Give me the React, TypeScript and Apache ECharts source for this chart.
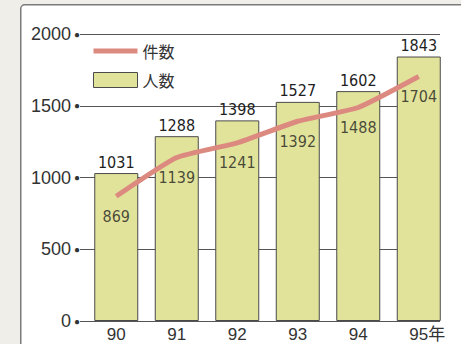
import React, { useEffect, useRef } from "react";
import * as echarts from "echarts";

// 年次 (1990–1995)
const years = ["90", "91", "92", "93", "94", "95"];
const yearUnit = "年";
// 人数 (bars)
const persons = [1031, 1288, 1398, 1527, 1602, 1843];
// 件数 (line)
const cases = [869, 1139, 1241, 1392, 1488, 1704];
// value axis
const yMin = 0;
const yMax = 2000;
const yStep = 500;

const numFont = "'Liberation Sans Narrow', 'DejaVu Sans Condensed', 'Roboto Condensed', sans-serif";
const textFont = "'Liberation Sans', Arial, 'Noto Sans CJK JP', sans-serif";
const cjkFont = "'Noto Sans CJK JP', sans-serif";

const lineColor = "#dc8a80";
const barColor = "#e2e39a";
const edgeColor = "#4a4a4a";

export default function App() {
  const ref = useRef<HTMLDivElement>(null);

  useEffect(() => {
    if (!ref.current) return;
    const chart = echarts.init(ref.current, null, { renderer: "svg" });
    const last = years.length - 1;

    const numLabel = {
      show: true,
      fontFamily: numFont,
      fontSize: 16,
      color: "#1e1e1e",
    };

    chart.setOption({
      animation: false,
      backgroundColor: "#efeee9",
      graphic: [
        {
          type: "rect",
          left: 20,
          top: 4,
          shape: { width: 470, height: 380, r: 4 },
          style: { fill: "#ffffff", stroke: "#7a7a7a", lineWidth: 1.5 },
          z: -10,
        },
      ],
      legend: {
        orient: "vertical",
        left: 86,
        top: 38,
        itemWidth: 44,
        itemHeight: 15,
        itemGap: 13,
        data: [
          {
            name: "件数",
            itemStyle: { opacity: 0 },
            lineStyle: { width: 5, color: lineColor },
          },
          {
            name: "人数",
            icon: "rect",
            itemStyle: { color: barColor, borderColor: edgeColor, borderWidth: 1 },
          },
        ],
        textStyle: { fontFamily: cjkFont, fontSize: 16, color: "#333" },
      },
      grid: [
        // bars and line
        { left: 86, right: 12, top: 34, bottom: 23 },
        // gridlines and value labels
        { left: 80, right: 21, top: 34, bottom: 23 },
      ],
      xAxis: [
        {
          type: "category",
          gridIndex: 0,
          data: years,
          axisLine: { show: false },
          axisTick: { show: false },
          axisLabel: {
            interval: 0,
            margin: 5,
            fontFamily: textFont,
            fontSize: 17,
            color: "#333",
            formatter: (v: string, i: number) =>
              i === last ? `{u|${v}${yearUnit}}` : v,
            rich: {
              u: {
                fontFamily: textFont,
                fontSize: 17,
                color: "#333",
                padding: [0, 0, 0, 17],
              },
            },
          },
        },
        {
          type: "value",
          gridIndex: 1,
          show: false,
        },
      ],
      yAxis: [
        {
          type: "value",
          gridIndex: 0,
          min: yMin,
          max: yMax,
          interval: yStep,
          show: false,
        },
        {
          type: "value",
          gridIndex: 1,
          min: yMin,
          max: yMax,
          interval: yStep,
          axisLine: { show: false },
          axisTick: { show: false },
          splitLine: { show: true, lineStyle: { color: "#555", width: 1 } },
          axisLabel: {
            margin: 0,
            formatter: (v: number) => `{v|${v}}{d|●}`,
            rich: {
              v: { fontFamily: textFont, fontSize: 18, color: "#333" },
              d: { fontSize: 10, color: "#333", padding: [0, 0, 0, 3] },
            },
          },
        },
      ],
      series: [
        {
          name: "人数",
          type: "bar",
          xAxisIndex: 0,
          yAxisIndex: 0,
          data: persons,
          barWidth: 44,
          itemStyle: { color: barColor, borderColor: edgeColor, borderWidth: 1 },
          label: { ...numLabel, position: "top", distance: 3 },
          z: 2,
        },
        {
          name: "件数",
          type: "line",
          xAxisIndex: 0,
          yAxisIndex: 0,
          data: cases,
          smooth: 0.15,
          symbol: "none",
          lineStyle: { color: lineColor, width: 5 },
          itemStyle: { color: lineColor },
          z: 3,
        },
        {
          // value labels under the 件数 line
          name: "件数",
          type: "scatter",
          xAxisIndex: 0,
          yAxisIndex: 0,
          data: cases,
          symbolSize: 0,
          itemStyle: { color: lineColor },
          label: { ...numLabel, position: "bottom", distance: 12 },
          z: 4,
        },
      ],
    });

    return () => chart.dispose();
  }, []);

  return (
    <div
      ref={ref}
      style={{ position: "fixed", left: 0, top: 0, width: 461, height: 344 }}
    />
  );
}
